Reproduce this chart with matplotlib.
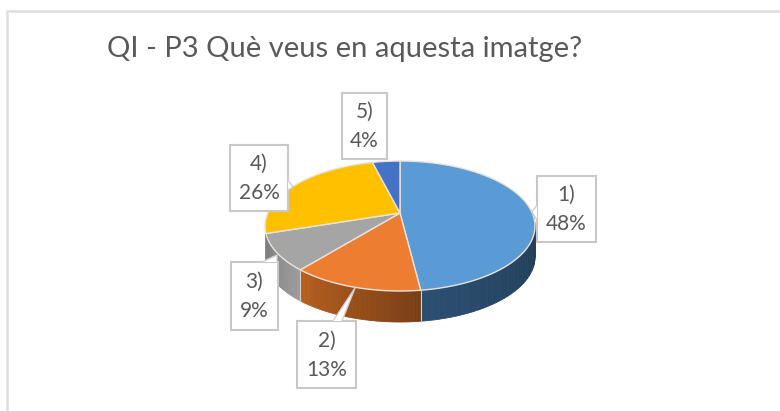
import numpy as np
import matplotlib
matplotlib.use("Agg")
import matplotlib.pyplot as plt
from matplotlib.patches import Polygon, Rectangle

plt.rcParams['font.family'] = ['Lato', 'DejaVu Sans']

title = "QI - P3 Què veus en aquesta imatge?"
categories = ["1)", "2)", "3)", "4)", "5)"]
values = [48, 13, 9, 26, 4]
top_colors = ["#5b9bd5", "#ed7d31", "#a5a5a5", "#ffc000", "#4472c4"]
side_left = ["#2c4f73", "#b8611f", "#7c7c7c", "#b88a00", "#2f5597"]
side_right = ["#1f3a50", "#7a3f16", "#9c9c9c", "#b88a00", "#2f5597"]

# pixel geometry of the pie
cx, cy, rx, ry = 400, 226, 135, 65
depth = 31
persp = 0.2

# label boxes: x0, y0, x1, y1
boxes = [(537, 176, 596, 242), (297, 321, 356, 388), (231, 262, 278, 330),
         (230, 145, 288, 211), (342, 93, 387, 159)]
# leader: two points on the box edge, then the tip on the pie
leaders = [((537, 205), (537, 220), (532, 212)),
           ((333, 321), (342, 321), (355, 288)),
           ((262, 262), (277, 262), (277, 255)),
           ((288, 180), (288, 190), (293, 187)),
           None]


def project(theta):
    # disc to screen, the centre of the pie sits above the centre of the ellipse
    u, v = np.sin(theta), np.cos(theta)
    d = 1 + persp * v
    return cx + rx * u * np.sqrt(1 - persp**2) / d, cy - ry * (v + persp) / d


def mix(c1, c2, t):
    a = np.array(matplotlib.colors.to_rgb(c1))
    b = np.array(matplotlib.colors.to_rgb(c2))
    return a + (b - a) * t


fig = plt.figure(figsize=(7.8, 4.11), dpi=100)
ax = fig.add_axes([0, 0, 1, 1])
ax.set_xlim(0, 780)
ax.set_ylim(411, 0)
ax.axis("off")

# chart frame, runs off the right and bottom of the picture
ax.add_patch(Rectangle((7, 11), 800, 420, fc="white", ec="#dedede", lw=1.8))

ax.text(107, 49, title, fontsize=21, color="#595959", ha="left", va="center")

edges = np.concatenate([[0], np.cumsum(values)]) / sum(values) * 2 * np.pi

# side walls first, only the front part of the rim shows
for i in range(3):
    a0, a1 = max(edges[i], np.pi / 2 - 0.05), edges[i + 1]
    ts = np.linspace(a0, a1, 40)
    for j in range(len(ts) - 1):
        x0, y0 = project(ts[j])
        x1, y1 = project(ts[j + 1])
        col = mix(side_right[i], side_left[i], (ts[j] - a0) / (a1 - a0))
        ax.add_patch(Polygon([(x0, y0), (x1, y1), (x1, y1 + depth), (x0, y0 + depth)],
                             fc=col, ec=col, lw=0.6))

# light line where slices meet on the wall
for k in [1, 2]:
    x_b, y_b = project(edges[k])
    ax.plot([x_b, x_b], [y_b, y_b + depth], color="#d8d0c8", lw=0.8)

# top faces
apex = (cx, cy - ry * persp)
for i in range(len(values)):
    ts = np.linspace(edges[i], edges[i + 1], 80)
    xs, ys = project(ts)
    pts = [apex] + list(zip(xs, ys))
    ax.add_patch(Polygon(pts, fc=top_colors[i], ec="#e8e4dc", lw=1.0, joinstyle="round"))

# callouts
for i in range(len(values)):
    x0, y0, x1, y1 = boxes[i]
    ax.add_patch(Rectangle((x0, y0), x1 - x0, y1 - y0, fc="white", ec="#c8c8c8", lw=1.5))
    if leaders[i] is not None:
        p0, p1, tip = leaders[i]
        ax.add_patch(Polygon([p0, tip, p1], fc="white", ec="none"))
        ax.plot([p0[0], tip[0], p1[0]], [p0[1], tip[1], p1[1]], color="#d0d0d0", lw=1.0)
    xc = (x0 + x1) / 2
    ym = (y0 + y1) / 2
    ax.text(xc, ym - 14, categories[i], fontsize=15, color="#595959", ha="center", va="center")
    ax.text(xc, ym + 15, f"{values[i]}%", fontsize=15, color="#595959", ha="center", va="center")

fig.savefig("out.png", dpi=100)
